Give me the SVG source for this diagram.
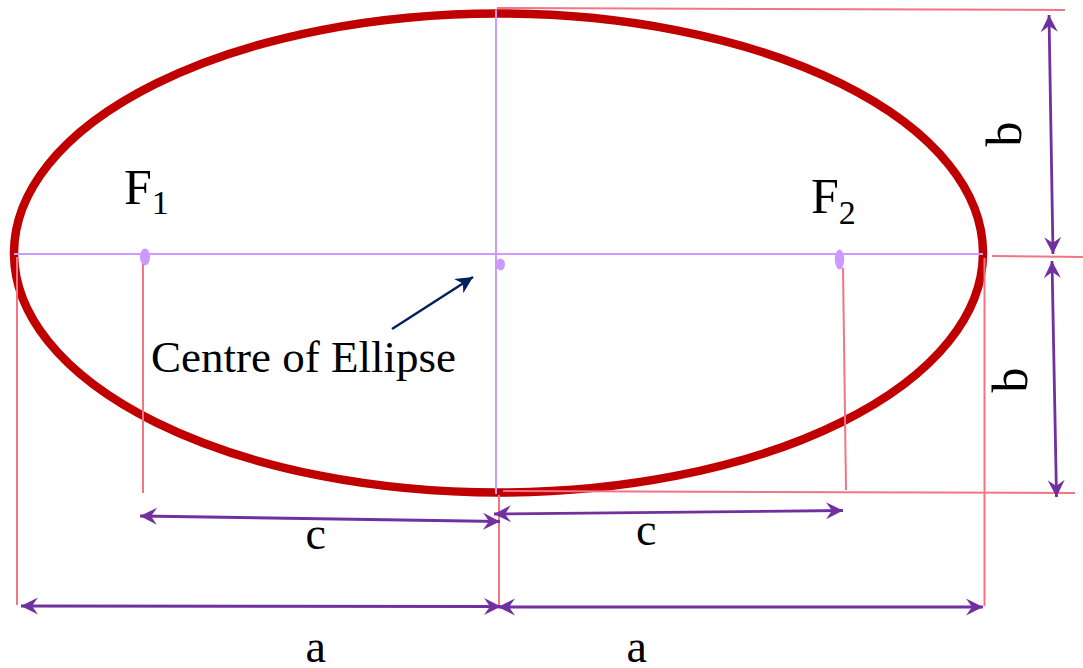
<svg xmlns="http://www.w3.org/2000/svg" width="1083" height="668" viewBox="0 0 1083 668">
<style>
.pink{stroke:#F27485;stroke-width:2;fill:none}
.lav{stroke:#CC99FF;stroke-width:2;fill:none}
.dim{stroke:#7030A0;stroke-width:2.8;fill:none;marker-start:url(#ah);marker-end:url(#ah)}
.lbl{font-family:"Liberation Serif","Times New Roman",serif;fill:#000}
.dot{fill:#CC99FF}
</style>
<defs>
<marker id="ah" markerUnits="userSpaceOnUse" viewBox="-18 -10 20 20" refX="0" refY="0" markerWidth="20" markerHeight="20" orient="auto-start-reverse">
<path d="M0,0 L-17,-8.5 L-11,0 L-17,8.5 Z" fill="#7030A0"/>
</marker>
<marker id="nv" markerUnits="userSpaceOnUse" viewBox="-18 -10 20 20" refX="0" refY="0" markerWidth="20" markerHeight="20" orient="auto">
<path d="M0,0 L-17,-8.5 L-12,0 L-17,8.5 Z" fill="#002060"/>
</marker>
</defs>
<rect width="1083" height="668" fill="#fff"/>
<g id="ellipse">
<ellipse cx="498.5" cy="253" rx="484.5" ry="239.5" fill="none" stroke="#C00000" stroke-width="8.5"/>
</g>
<g id="guides">
<line class="lav" x1="14" y1="254" x2="983" y2="254"/>
<line class="lav" x1="496" y1="10" x2="496" y2="494"/>
<line class="pink" x1="497" y1="8" x2="1065" y2="10"/>
<line class="pink" x1="992" y1="256" x2="1083" y2="257"/>
<line class="pink" x1="503" y1="491" x2="1075" y2="493"/>
<line class="pink" x1="17" y1="257" x2="17" y2="605"/>
<line class="pink" x1="984.5" y1="258" x2="984.5" y2="606"/>
<line class="pink" x1="143" y1="264" x2="143" y2="493"/>
<line class="pink" x1="843" y1="268" x2="846" y2="490"/>
<line class="pink" x1="499" y1="495" x2="499" y2="605"/>
</g>
<g id="foci">
<ellipse class="dot" cx="145" cy="257" rx="5" ry="8.5"/>
<ellipse class="dot" cx="839.5" cy="259.5" rx="4.7" ry="10"/>
<ellipse class="dot" cx="500.5" cy="264.5" rx="4.5" ry="6"/>
</g>
<g id="connectors">
<line class="dim" x1="1049" y1="15" x2="1053" y2="254"/>
<line class="dim" x1="1052" y1="261" x2="1056.5" y2="497"/>
<line class="dim" x1="140" y1="516" x2="500" y2="521.5"/>
<line class="dim" x1="494" y1="514" x2="843" y2="510.5"/>
<line class="dim" x1="21" y1="606" x2="501" y2="606.5"/>
<line class="dim" x1="498" y1="607" x2="983" y2="607"/>
<line x1="392" y1="329" x2="473" y2="277" stroke="#002060" stroke-width="2.5" marker-end="url(#nv)"/>
</g>
<g id="labels">
<text class="lbl" x="124" y="204" font-size="50">F<tspan font-size="34" dy="10">1</tspan></text>
<text class="lbl" x="811" y="213" font-size="50">F<tspan font-size="34" dy="11">2</tspan></text>
<text class="lbl" x="151" y="372" font-size="45">Centre of Ellipse</text>
<text class="lbl" x="305.5" y="549" font-size="46">c</text>
<text class="lbl" x="636" y="545" font-size="46">c</text>
<text class="lbl" x="305.5" y="662" font-size="46">a</text>
<text class="lbl" x="626.5" y="662" font-size="46">a</text>
<text class="lbl" font-size="50" text-anchor="middle" transform="translate(1021,134) rotate(-90)">b</text>
<text class="lbl" font-size="50" text-anchor="middle" transform="translate(1027,380) rotate(-90)">b</text>
</g>
</svg>
